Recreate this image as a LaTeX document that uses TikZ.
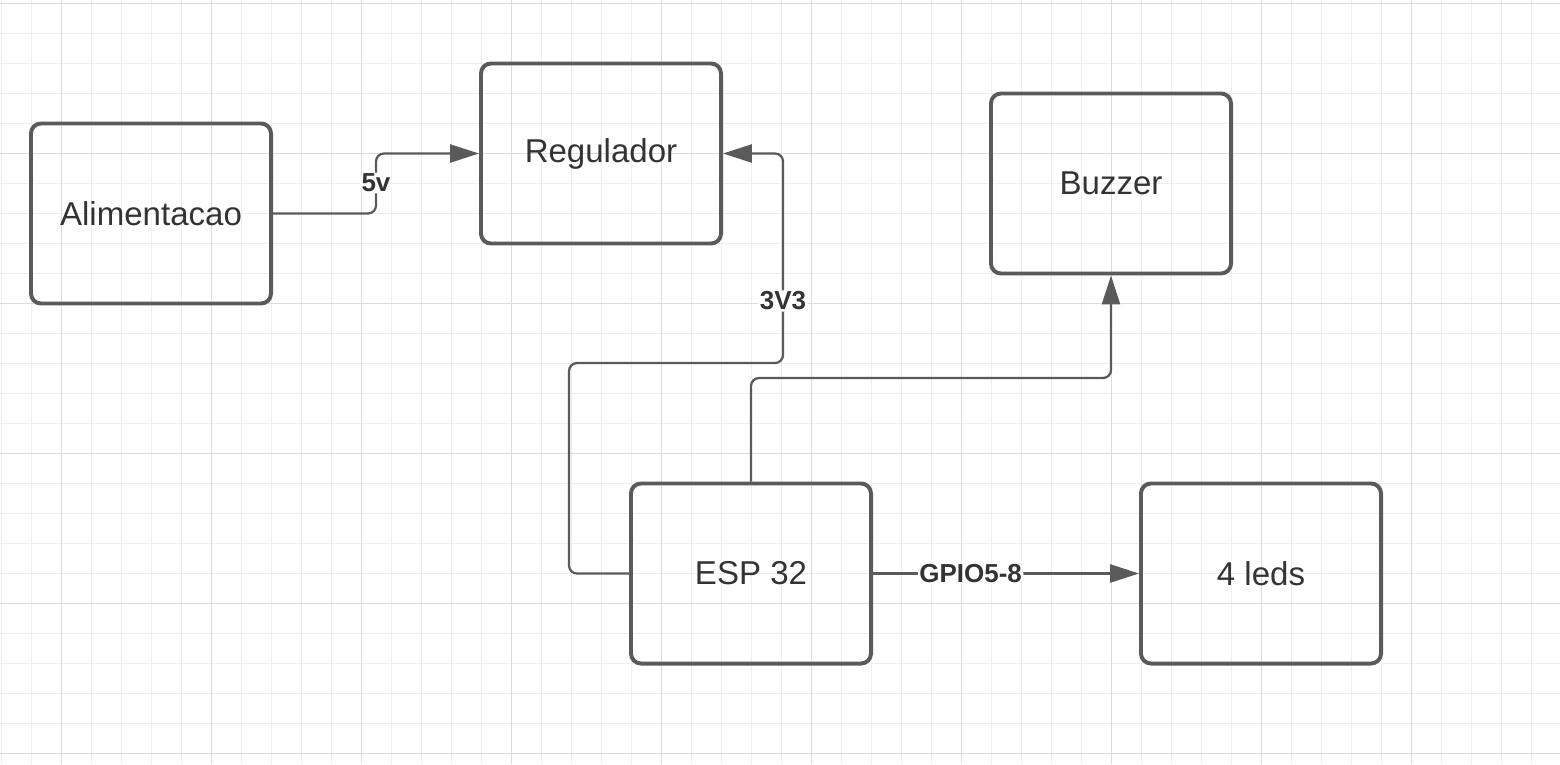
\documentclass[tikz,border=0pt]{standalone}
\usepackage{fontspec}
\setmainfont{Liberation Sans}
\usetikzlibrary{arrows.meta}
\definecolor{linegray}{HTML}{5A5A5A}
\definecolor{textgray}{HTML}{333333}
\definecolor{gridminor}{HTML}{EEEEEE}
\definecolor{gridmajor}{HTML}{DCDCDC}
\tikzset{
  block/.style={draw=linegray, line width=2.8pt, rounded corners=0.25cm, minimum width=6cm, minimum height=4.5cm, text=textgray, font=\fontsize{23.5}{28}\selectfont},
  wire/.style={draw=linegray, line width=1.6pt, rounded corners=0.2cm, -{Triangle[length=0.72cm,width=0.45cm]}},
  tag/.style={fill=white, text=textgray, inner sep=1pt, font=\bfseries\fontsize{18.5}{22}\selectfont},
}
\begin{document}
\begin{tikzpicture}[x=0.025cm, y=-0.025cm]
    \useasboundingbox[fill=white] (0,0) rectangle (1560,764);
    % grid
    \foreach \x in {1,31,...,1560} \draw[gridminor, line width=0.6pt] (\x,0) -- (\x,764);
    \foreach \y in {3,33,...,764} \draw[gridminor, line width=0.6pt] (0,\y) -- (1560,\y);
    \foreach \x in {61,211,...,1560} \draw[gridmajor, line width=0.6pt] (\x,0) -- (\x,764);
    \foreach \y in {3,153,...,764} \draw[gridmajor, line width=0.6pt] (0,\y) -- (1560,\y);
    % blocks
    \node[block] (alim) at (151,213.5) {Alimentacao};
    \node[block] (reg) at (601,153.5) {Regulador};
    \node[block] (buz) at (1111,183.5) {Buzzer};
    \node[block] (esp) at (751,573.5) {ESP 32};
    \node[block] (leds) at (1261,573.5) {4 leds};
    % bends
    \coordinate (k5) at (376,183);
    \coordinate (k3a) at (569,363);
    \coordinate (k3) at (783,301);
    \coordinate (kb) at (900,378);
    % connectors
    \draw[wire] (alim.east) -| (k5) node[tag] {5v} |- (reg.west);
    \draw[wire] (esp.west) -| (k3a) -| (k3) node[tag] {3V3} |- (reg.east);
    \draw[wire] (esp.north) |- (kb) -| (buz.south);
    \draw[wire] (esp.east) -- node[tag, pos=0.367] {GPIO5-8} (leds.west);
\end{tikzpicture}
\end{document}
